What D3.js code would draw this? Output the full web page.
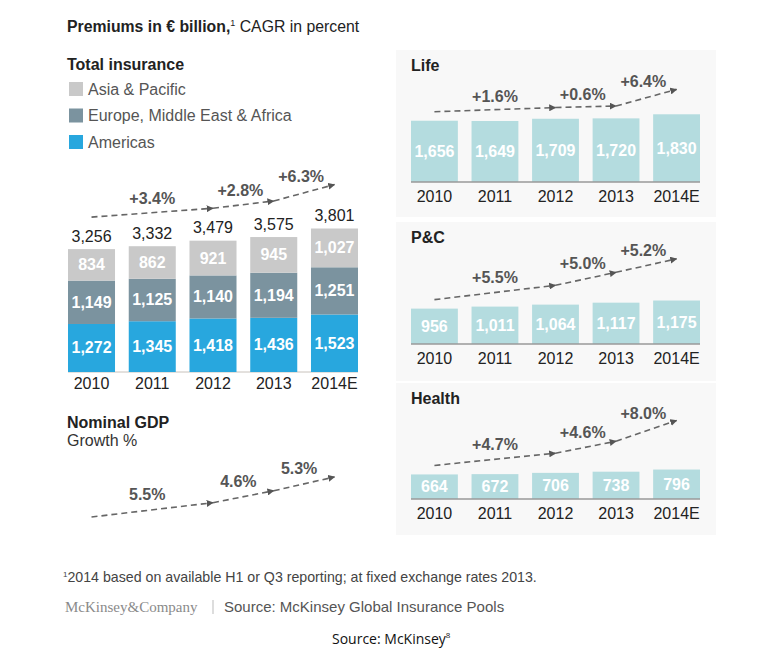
<!DOCTYPE html>
<html>
<head>
<meta charset="utf-8">
<script src="https://cdn.jsdelivr.net/npm/d3@7"></script>
<style>
  html, body { margin: 0; padding: 0; background: #fff; }
  svg { display: block; font-family: "Liberation Sans", Arial, Helvetica, sans-serif; }
</style>
</head>
<body>
<svg id="chart" width="768" height="658"></svg>
<script>
// ---------- DATA ----------
const years = ["2010", "2011", "2012", "2013", "2014E"];
const seriesNames = ["Americas", "Europe, Middle East & Africa", "Asia & Pacific"];
const americas    = [1272, 1345, 1418, 1436, 1523];
const emea        = [1149, 1125, 1140, 1194, 1251];
const asiaPacific = [834, 862, 921, 945, 1027];
const totals      = [3256, 3332, 3479, 3575, 3801];
const life   = [1656, 1649, 1709, 1720, 1830];
const pc     = [956, 1011, 1064, 1117, 1175];
const health = [664, 672, 706, 738, 796];
// CAGR periods: indices of years (from, to)
const cagrPeriods = [[0, 2], [2, 3], [3, 4]];
const totalCagr  = [3.4, 2.8, 6.3];
const lifeCagr   = [1.6, 0.6, 6.4];
const pcCagr     = [5.5, 5.0, 5.2];
const healthCagr = [4.7, 4.6, 8.0];
const gdpGrowth  = [5.5, 4.6, 5.3];

// ---------- STYLE ----------
const colors = {
  "Asia & Pacific": "#c9c9c9",
  "Europe, Middle East & Africa": "#7b939f",
  "Americas": "#28a7de"
};
const panelBar = "#b4dcdf";
const panelBg = "#f8f8f8";
const arrowColor = "#666";

const svg = d3.select("#chart");
const fmt = d3.format(",");

const defs = svg.append("defs");
defs.append("marker")
  .attr("id", "ah").attr("viewBox", "0 0 10 10")
  .attr("refX", 9).attr("refY", 5)
  .attr("markerWidth", 7).attr("markerHeight", 7)
  .attr("markerUnits", "userSpaceOnUse")
  .attr("orient", "auto")
  .append("path").attr("d", "M0,0 L10,5 L0,10 Z").attr("fill", "#555");

// growth → vertical rise of trend arrows (px per percentage point)
const riseScale = d3.scaleLinear().domain([0, 1]).range([0, 2.6]);

function drawTrend(g, x, startY, values, showPlus) {
  const pts = [];
  let yy = startY;
  pts.push([x(years[cagrPeriods[0][0]]) + x.bandwidth() / 2, yy]);
  cagrPeriods.forEach((p, i) => {
    yy -= riseScale(values[i]);
    pts.push([x(years[p[1]]) + x.bandwidth() / 2, yy]);
  });
  for (let i = 0; i < pts.length - 1; i++) {
    const a = pts[i], b = pts[i + 1];
    const rise = a[1] - b[1];
    g.append("line")
      .attr("x1", a[0]).attr("y1", a[1])
      .attr("x2", b[0]).attr("y2", b[1])
      .attr("stroke", arrowColor).attr("stroke-width", 1.6)
      .attr("stroke-dasharray", "6,4")
      .attr("marker-end", "url(#ah)");
    g.append("text")
      .attr("x", (a[0] + b[0]) / 2 - (showPlus ? (i > 0 ? 3 : 0) : 5))
      .attr("y", (a[1] + b[1]) / 2 - 6.3 - 0.25 * rise)
      .attr("text-anchor", "middle")
      .attr("font-size", 16).attr("font-weight", "bold")
      .attr("fill", "#555")
      .text((showPlus ? "+" : "") + d3.format(".1f")(values[i]) + "%");
  }
}

// ---------- HEADER ----------
const title = svg.append("text").attr("x", 67).attr("y", 32).attr("font-size", 15.8).attr("fill", "#222");
title.append("tspan").attr("font-weight", "bold").text("Premiums in € billion,");
title.append("tspan").attr("font-size", 9).attr("dy", -6).text("1");
title.append("tspan").attr("dy", 6).text(" CAGR in percent");

svg.append("text").attr("x", 67).attr("y", 70).attr("font-size", 16)
  .attr("font-weight", "bold").attr("fill", "#222").text("Total insurance");

// legend
const legendOrder = ["Asia & Pacific", "Europe, Middle East & Africa", "Americas"];
const legendY = d3.scalePoint().domain(legendOrder).range([89, 142]);
const lg = svg.append("g");
legendOrder.forEach(name => {
  lg.append("rect").attr("x", 69).attr("y", legendY(name) - 7)
    .attr("width", 14).attr("height", 14).attr("fill", colors[name]);
  lg.append("text").attr("x", 88).attr("y", legendY(name) + 5.5)
    .attr("font-size", 16).attr("fill", "#555").text(name);
});

// ---------- TOTAL STACKED CHART ----------
const xL = d3.scaleBand().domain(years).range([68, 358]).paddingInner(0.226).paddingOuter(0);
const yL = d3.scaleLinear().domain([0, 4000]).range([372, 372 - 151]);

const stackData = years.map((yr, i) => ({
  year: yr,
  "Americas": americas[i],
  "Europe, Middle East & Africa": emea[i],
  "Asia & Pacific": asiaPacific[i]
}));
const stack = d3.stack().keys(seriesNames)(stackData);

const gL = svg.append("g");
gL.append("line").attr("x1", 68).attr("x2", 358).attr("y1", 372).attr("y2", 372)
  .attr("stroke", "#c8c2bc").attr("stroke-width", 1);

stack.forEach(layer => {
  const key = layer.key;
  gL.selectAll(null).data(layer).enter().append("rect")
    .attr("x", d => xL(d.data.year))
    .attr("y", d => yL(d[1]))
    .attr("width", xL.bandwidth())
    .attr("height", d => yL(d[0]) - yL(d[1]))
    .attr("fill", colors[key]);
  gL.selectAll(null).data(layer).enter().append("text")
    .attr("x", d => xL(d.data.year) + xL.bandwidth() / 2)
    .attr("y", d => (yL(d[0]) + yL(d[1])) / 2 + 5.5)
    .attr("text-anchor", "middle")
    .attr("font-size", 16).attr("font-weight", "bold").attr("fill", "#fff")
    .text(d => fmt(d.data[key]));
});

gL.selectAll(null).data(years).enter().append("text")
  .attr("x", d => xL(d) + xL.bandwidth() / 2)
  .attr("y", (d, i) => yL(d3.sum([americas[i], emea[i], asiaPacific[i]])) - 7.5)
  .attr("text-anchor", "middle").attr("font-size", 16).attr("fill", "#222")
  .text((d, i) => fmt(totals[i]));

gL.selectAll(null).data(years).enter().append("text")
  .attr("x", d => xL(d) + xL.bandwidth() / 2)
  .attr("y", 389)
  .attr("text-anchor", "middle").attr("font-size", 16).attr("fill", "#222")
  .text(d => d);

drawTrend(gL, xL, yL(totals[0]) - 32, totalCagr, true);

// ---------- GDP ----------
svg.append("text").attr("x", 67).attr("y", 428).attr("font-size", 16)
  .attr("font-weight", "bold").attr("fill", "#222").text("Nominal GDP");
svg.append("text").attr("x", 67).attr("y", 446).attr("font-size", 16)
  .attr("fill", "#333").text("Growth %");
drawTrend(svg.append("g"), xL, 517, gdpGrowth, false);

// ---------- RIGHT PANELS ----------
const xR = d3.scaleBand().domain(years).range([411, 700]).paddingInner(0.226).paddingOuter(0);
const panels = [
  { title: "Life",   values: life,   cagr: lifeCagr,   top: 50,  bottom: 217, base: 182 },
  { title: "P&C",    values: pc,     cagr: pcCagr,     top: 222, bottom: 381, base: 344 },
  { title: "Health", values: health, cagr: healthCagr, top: 383, bottom: 535, base: 499 }
];

panels.forEach(p => {
  const g = svg.append("g");
  g.append("rect").attr("x", 396).attr("y", p.top).attr("width", 320)
    .attr("height", p.bottom - p.top).attr("fill", panelBg);
  g.append("text").attr("x", 411).attr("y", p.top + 20.5).attr("font-size", 16)
    .attr("font-weight", "bold").attr("fill", "#222").text(p.title);
  const y = d3.scaleLinear().domain([0, 4000]).range([p.base, p.base - 148]);
  g.selectAll(null).data(p.values).enter().append("rect")
    .attr("x", (d, i) => xR(years[i]))
    .attr("y", d => y(d))
    .attr("width", xR.bandwidth())
    .attr("height", d => y(0) - y(d))
    .attr("fill", panelBar);
  g.append("line").attr("x1", 411).attr("x2", 700).attr("y1", p.base).attr("y2", p.base)
    .attr("stroke", "#9a9a9a").attr("stroke-width", 1.5);
  g.selectAll(null).data(p.values).enter().append("text")
    .attr("x", (d, i) => xR(years[i]) + xR.bandwidth() / 2)
    .attr("y", d => (y(0) + y(d)) / 2 + 5.5)
    .attr("text-anchor", "middle").attr("font-size", 16).attr("font-weight", "bold")
    .attr("fill", "#fff").text(d => fmt(d));
  g.selectAll(null).data(years).enter().append("text")
    .attr("x", d => xR(d) + xR.bandwidth() / 2)
    .attr("y", p.base + 20)
    .attr("text-anchor", "middle").attr("font-size", 16).attr("fill", "#222")
    .text(d => d);
  drawTrend(g, xR, y(p.values[0]) - 9, p.cagr, true);
});

// ---------- FOOTER ----------
const fn = svg.append("text").attr("x", 63).attr("y", 582).attr("font-size", 14.2).attr("fill", "#444");
fn.append("tspan").attr("font-size", 8).attr("dy", -5).text("1");
fn.append("tspan").attr("dy", 5).text("2014 based on available H1 or Q3 reporting; at fixed exchange rates 2013.");

svg.append("text").attr("x", 65).attr("y", 612).attr("font-size", 15)
  .style("font-family", "'Liberation Serif', 'DejaVu Serif', serif")
  .attr("fill", "#8a8a8a").text("McKinsey&Company");
svg.append("line").attr("x1", 213).attr("x2", 213).attr("y1", 600).attr("y2", 614)
  .attr("stroke", "#bbb").attr("stroke-width", 1);
svg.append("text").attr("x", 224).attr("y", 612).attr("font-size", 15)
  .attr("fill", "#555").text("Source: McKinsey Global Insurance Pools");

const src = svg.append("text").attr("x", 332).attr("y", 644).attr("font-size", 14)
  .style("font-family", "'Open Sans', 'Noto Sans', sans-serif").attr("fill", "#111");
src.append("tspan").text("Source: McKinsey");
src.append("tspan").attr("font-size", 8).attr("dy", -6).text("8");
</script>
</body>
</html>
